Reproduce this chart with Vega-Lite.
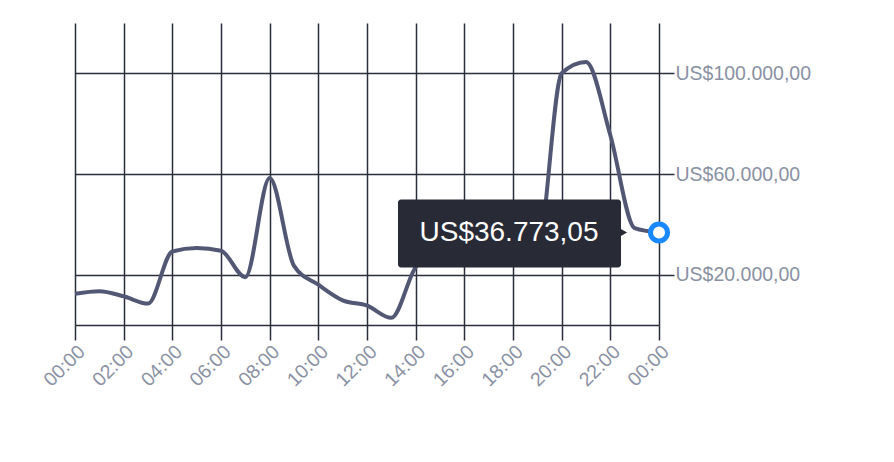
{
  "$schema": "https://vega.github.io/schema/vega-lite/v6.json",
  "width": 584,
  "height": 302,
  "autosize": "none",
  "padding": {"left": 75, "top": 23, "right": 235, "bottom": 137},
  "background": "white",
  "config": {
    "view": {"stroke": null},
    "font": "Liberation Sans"
  },
  "data": {
    "values": [
      {"hour": 0, "v": 12400},
      {"hour": 1, "v": 13400},
      {"hour": 2, "v": 11400},
      {"hour": 3, "v": 8500},
      {"hour": 4, "v": 29200},
      {"hour": 5, "v": 30600},
      {"hour": 6, "v": 29500},
      {"hour": 7, "v": 19000},
      {"hour": 8, "v": 58400},
      {"hour": 9, "v": 23500},
      {"hour": 10, "v": 16000},
      {"hour": 11, "v": 9800},
      {"hour": 12, "v": 7700},
      {"hour": 13, "v": 2850},
      {"hour": 14, "v": 23000},
      {"hour": 15, "v": 30000},
      {"hour": 16, "v": 33000},
      {"hour": 17, "v": 36000},
      {"hour": 18, "v": 38000},
      {"hour": 19, "v": 30000},
      {"hour": 20, "v": 100000},
      {"hour": 21, "v": 104500},
      {"hour": 22, "v": 75400},
      {"hour": 23, "v": 38500},
      {"hour": 24, "v": 36773.05}
    ]
  },
  "encoding": {
    "x": {
      "field": "hour",
      "type": "quantitative",
      "scale": {"domain": [0, 24], "nice": false, "zero": false},
      "axis": {
        "orient": "bottom",
        "title": null,
        "values": [0, 2, 4, 6, 8, 10, 12, 14, 16, 18, 20, 22, 24],
        "labelExpr": "(datum.value % 24 < 10 ? '0' : '') + (datum.value % 24) + ':00'",
        "labelAngle": -45,
        "labelFontSize": 19.5,
        "labelFont": "Liberation Sans",
        "labelColor": "#8a91a4",
        "labelPadding": 2,
        "labelOverlap": false,
        "labelFlush": false,
        "tickSize": 15,
        "tickColor": "#2a2d3a",
        "tickWidth": 1.5,
        "grid": true,
        "gridColor": "#2a2d3a",
        "gridWidth": 1.5,
        "domainColor": "#2a2d3a",
        "domainWidth": 1.5
      }
    },
    "y": {
      "field": "v",
      "type": "quantitative",
      "scale": {"domain": [0, 120000]},
      "axis": {
        "orient": "right",
        "title": null,
        "values": [20000, 60000, 100000],
        "labelExpr": "'US$' + replace(replace(replace(format(datum.value, ',.2f'), ',', '#'), '.', ','), '#', '.')",
        "labelFontSize": 19.5,
        "labelFont": "Liberation Sans",
        "labelColor": "#8a91a4",
        "labelPadding": 1,
        "tickSize": 15,
        "tickColor": "#2a2d3a",
        "tickWidth": 1.5,
        "grid": true,
        "gridColor": "#2a2d3a",
        "gridWidth": 1.5,
        "domain": false
      }
    }
  },
  "layer": [
    {
      "mark": {"type": "line", "interpolate": "monotone", "color": "#525873", "strokeWidth": 4}
    },
    {
      "transform": [{"filter": "datum.hour == 24"}],
      "mark": {"type": "rect", "color": "#282a36", "cornerRadius": 3, "xOffset": -261, "x2Offset": -38, "yOffset": -33, "y2Offset": 35},
      "encoding": {"x2": {"field": "hour"}, "y2": {"field": "v"}}
    },
    {
      "transform": [{"filter": "datum.hour == 24"}],
      "mark": {"type": "point", "shape": "triangle-right", "size": 50, "filled": true, "color": "#282a36", "opacity": 1, "xOffset": -35}
    },
    {
      "transform": [
        {"filter": "datum.hour == 24"},
        {"calculate": "'US$' + replace(replace(replace(format(datum.v, ',.2f'), ',', '#'), '.', ','), '#', '.')", "as": "label"}
      ],
      "mark": {"type": "text", "dx": -150, "dy": 1, "color": "white", "fontSize": 28, "font": "Liberation Sans", "align": "center", "baseline": "middle"},
      "encoding": {"text": {"field": "label", "type": "nominal"}}
    },
    {
      "transform": [{"filter": "datum.hour == 24"}],
      "mark": {"type": "point", "size": 290, "filled": false, "fill": "white", "stroke": "#1a88ff", "strokeWidth": 5, "opacity": 1, "fillOpacity": 1, "strokeOpacity": 1}
    }
  ]
}
